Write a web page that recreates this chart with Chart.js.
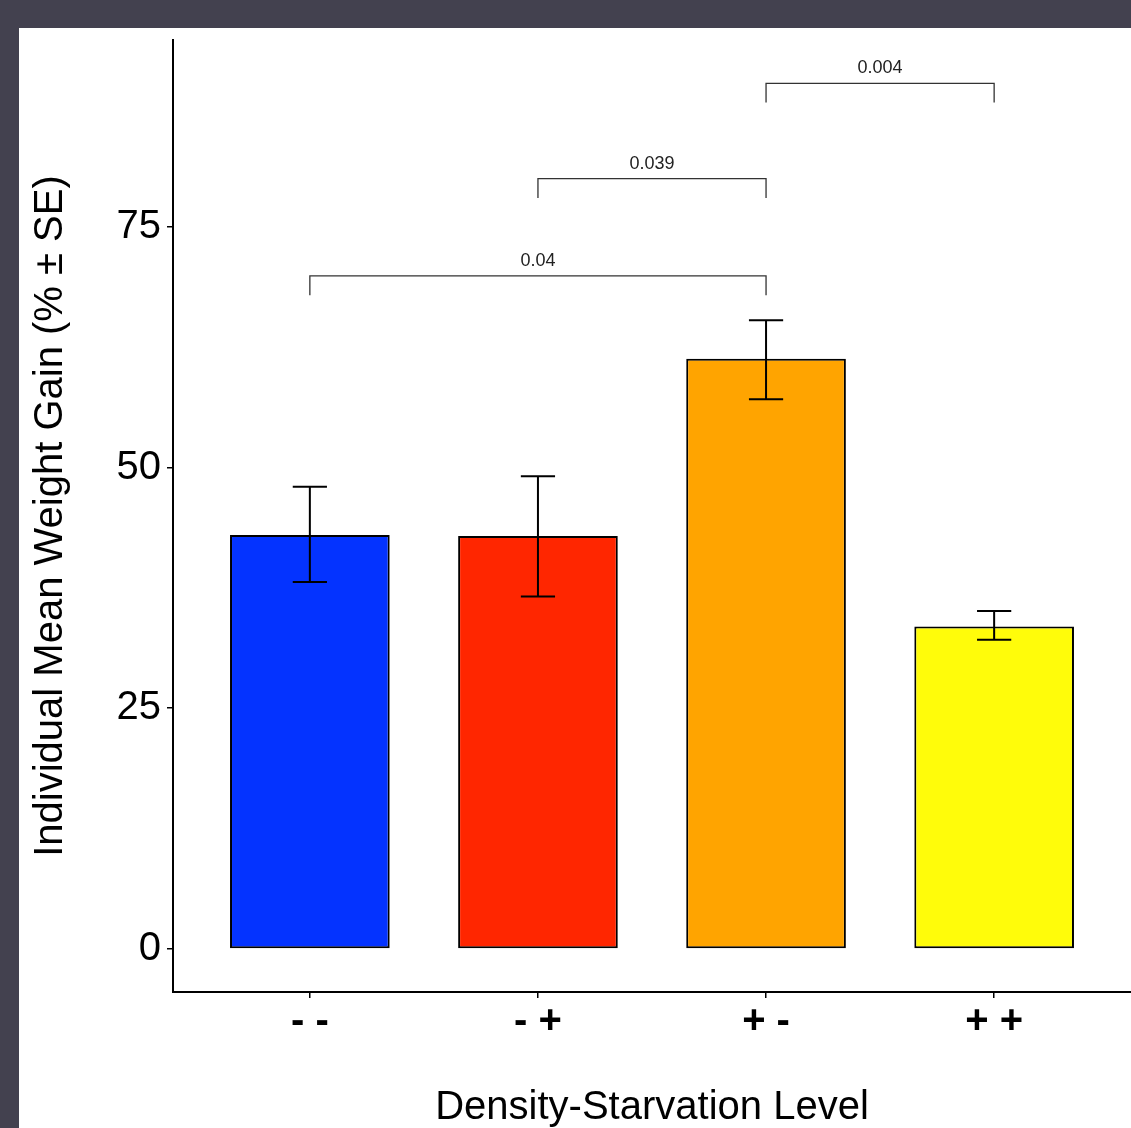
<!DOCTYPE html>
<html>
<head>
<meta charset="utf-8">
<script src="https://cdn.jsdelivr.net/npm/chart.js@4"></script>
<style>
  html, body { margin: 0; padding: 0; background: #43414f; overflow: hidden; }
  #panel { position: absolute; left: 19px; top: 28px; width: 1112px; height: 1100px; background: #fff; }
</style>
</head>
<body>
<div id="panel"><canvas id="chart" width="1112" height="1100"></canvas></div>
<script>
// data
const categories = ['- -', '- +', '+ -', '+ +'];
const means = [43.0, 42.9, 61.3, 33.5];
const upperSE = [48.0, 49.1, 65.3, 35.1];
const lowerSE = [38.1, 36.6, 57.1, 32.1];
const barColors = ['#0433ff', '#ff2600', '#ffa400', '#fffc0a'];
const yTicks = [0, 25, 50, 75];

// significance brackets: [from category, to category], level, label
const bracketPairs = [[1, 3], [2, 3], [3, 4]];
const bracketLevels = [69.9, 80.0, 89.9];
const bracketLabels = ['0.04', '0.039', '0.004'];

Chart.defaults.font.family = "'Liberation Sans', Arial, sans-serif";
Chart.defaults.color = '#000';

const annotations = {
    id: 'annotations',
    afterDatasetsDraw(chart){
        const ctx = chart.ctx, x = chart.scales.x, y = chart.scales.y;
        const unit = x.getPixelForValue(2) - x.getPixelForValue(1);
        ctx.save();
        // error bars
        ctx.strokeStyle = '#000';
        ctx.lineWidth = 2;
        means.forEach((m, i) => {
            const cx = x.getPixelForValue(i + 1);
            const yt = y.getPixelForValue(upperSE[i]);
            const yb = y.getPixelForValue(lowerSE[i]);
            const hw = unit * 0.075;
            ctx.beginPath();
            ctx.moveTo(cx, yt); ctx.lineTo(cx, yb);
            ctx.moveTo(cx - hw, yt); ctx.lineTo(cx + hw, yt);
            ctx.moveTo(cx - hw, yb); ctx.lineTo(cx + hw, yb);
            ctx.stroke();
        });
        // brackets
        ctx.strokeStyle = '#333';
        ctx.lineWidth = 1.3;
        ctx.fillStyle = '#222';
        ctx.font = "18px 'Liberation Sans', Arial, sans-serif";
        ctx.textAlign = 'center';
        ctx.textBaseline = 'alphabetic';
        bracketPairs.forEach((p, i) => {
            const x1 = x.getPixelForValue(p[0]);
            const x2 = x.getPixelForValue(p[1]);
            const yl = y.getPixelForValue(bracketLevels[i]);
            const yd = y.getPixelForValue(bracketLevels[i] - 2);
            ctx.beginPath();
            ctx.moveTo(x1, yd); ctx.lineTo(x1, yl); ctx.lineTo(x2, yl); ctx.lineTo(x2, yd);
            ctx.stroke();
            ctx.fillText(bracketLabels[i], (x1 + x2) / 2, yl - 10);
        });
        ctx.restore();
    }
};

new Chart(document.getElementById('chart'), {
    type: 'bar',
    data: {
        datasets: [{
            data: means.map((m, i) => ({ x: i + 1, y: m })),
            backgroundColor: barColors,
            borderColor: '#000',
            borderWidth: 2,
            borderSkipped: false,
            barPercentage: 0.7,
            categoryPercentage: 1.0
        }]
    },
    options: {
        responsive: false,
        animation: false,
        layout: { padding: { top: 12, right: 0, left: 0, bottom: 0 } },
        plugins: { legend: { display: false }, tooltip: { enabled: false } },
        scales: {
            x: {
                type: 'linear',
                offset: false,
                min: 0.4, max: 4.6,
                afterBuildTicks: s => { s.ticks = [1, 2, 3, 4].map(v => ({ value: v })); },
                afterFit: s => { s.height = 136; s.paddingLeft = 0; s.paddingRight = 0; },
                ticks: {
                    callback: v => categories[v - 1],
                    font: { size: 40, weight: 'bold' },
                    padding: 0,
                    maxRotation: 0
                },
                grid: { offset: false, drawOnChartArea: false, drawTicks: true, tickLength: 6, color: '#000', lineWidth: 1.5 },
                border: { display: true, color: '#000', width: 2 },
                title: { display: true, text: 'Density-Starvation Level', font: { size: 40 }, padding: { top: 0, bottom: -4 } }
            },
            y: {
                min: -4.47, max: 94.4,
                afterBuildTicks: s => { s.ticks = yTicks.map(v => ({ value: v })); },
                afterFit: s => { s.width = 154; s.paddingTop = 0; s.paddingBottom = 0; },
                ticks: { font: { size: 40 }, padding: 6 },
                grid: { drawOnChartArea: false, drawTicks: true, tickLength: 6, color: '#000', lineWidth: 1.5 },
                border: { display: true, color: '#000', width: 2 },
                title: { display: true, text: 'Individual Mean Weight Gain (% \u00b1 SE)', font: { size: 40 }, padding: { top: 8, bottom: 0 } }
            }
        }
    },
    plugins: [annotations]
});
</script>
</body>
</html>
